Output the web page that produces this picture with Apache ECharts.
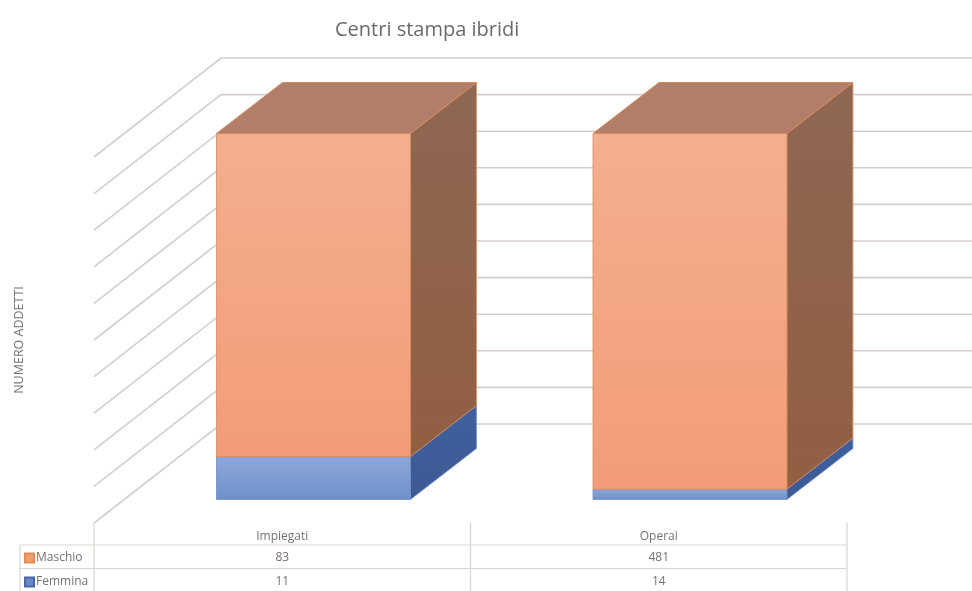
<!DOCTYPE html>
<html>
<head>
<meta charset="utf-8">
<style>html,body{margin:0;padding:0;background:#fff}#c{width:972px;height:591px}</style>
<script src="https://cdn.jsdelivr.net/npm/echarts@6/dist/echarts.min.js"></script>
</head>
<body>
<div id="c"></div>
<script>
var categories = ['Impiegati', 'Operai'];
var maschio = [83, 481];
var femmina = [11, 14];
var percentTicks = [0, 10, 20, 30, 40, 50, 60, 70, 80, 90, 100];

var FONT = '"Open Sans", sans-serif';
var WALL = [127, -99], INSET = [31.2, -23.5], DEPTH = [66, -51];
var GRID_COLOR = '#d6cecb', TABLE_COLOR = '#dcd5d1', TEXT = '#77716f';

var chart = echarts.init(document.getElementById('c'), null, {renderer: 'canvas'});
var LG = echarts.graphic.LinearGradient;
function grad(a, b) { return new LG(0, 0, 0, 1, [{offset: 0, color: a}, {offset: 1, color: b}]); }

function share(list, i) { return list[i] / (maschio[i] + femmina[i]) * 100; }
var femminaData = categories.map(function (c, i) { return [i, 0, share(femmina, i)]; });
var maschioData = categories.map(function (c, i) { return [i, share(femmina, i), 100]; });

function boxItem(look) {
  return function (params, api) {
    var i = api.value(0);
    var w = api.size([1, 0])[0] * 0.515;
    var lo = api.coord([i, api.value(1)]), hi = api.coord([i, api.value(2)]);
    var l = lo[0] + INSET[0] - w / 2, r = l + w;
    var yb = lo[1] + INSET[1], yt = hi[1] + INSET[1];
    var dx = DEPTH[0], dy = DEPTH[1];
    var kids = [
      {type: 'polygon', shape: {points: [[r, yt], [r + dx, yt + dy], [r + dx, yb + dy], [r, yb]]},
        style: {fill: grad(look.side[0], look.side[1]), stroke: look.edge, lineWidth: 0.8}},
      {type: 'rect', shape: {x: l, y: yt, width: w, height: yb - yt},
        style: {fill: grad(look.front[0], look.front[1]), stroke: look.edge, lineWidth: 0.8}}
    ];
    if (look.top) {
      kids.push({type: 'polygon', shape: {points: [[l, yt], [l + dx, yt + dy], [r + dx, yt + dy], [r, yt]]},
        style: {fill: look.top, stroke: look.edge, lineWidth: 1}});
    }
    return {type: 'group', children: kids};
  };
}

function wallItem(params, api) {
  var cs = params.coordSys;
  var y = api.coord([0, api.value(0)])[1];
  var x0 = cs.x, x1 = cs.x + WALL[0], y1 = y + WALL[1];
  return {
    type: 'polyline',
    shape: {points: [[x0, y], [x1, y1], [cs.x + cs.width + WALL[0], y1]]},
    style: {fill: null, stroke: GRID_COLOR, lineWidth: 1.6}
  };
}

function tableItem(params, api) {
  var cs = params.coordSys, i = api.value(0);
  var cx = api.coord([i, 0])[0], band = api.size([1, 0])[0];
  var base = cs.y + cs.height;
  var kids = [
    {type: 'text', style: {x: cx, y: base + 35, text: String(maschio[i]), fill: TEXT, font: '12px ' + FONT, align: 'center', verticalAlign: 'middle'}},
    {type: 'text', style: {x: cx, y: base + 59, text: String(femmina[i]), fill: TEXT, font: '12px ' + FONT, align: 'center', verticalAlign: 'middle'}},
    {type: 'line', shape: {x1: cx - band / 2, y1: base, x2: cx - band / 2, y2: base + 70}, style: {stroke: TABLE_COLOR, lineWidth: 1.2}},
    {type: 'line', shape: {x1: cx + band / 2, y1: base, x2: cx + band / 2, y2: base + 70}, style: {stroke: TABLE_COLOR, lineWidth: 1.2}}
  ];
  if (i === 0) {
    kids.push(
      {type: 'line', shape: {x1: 20, y1: base + 22, x2: cs.x + cs.width, y2: base + 22}, style: {stroke: TABLE_COLOR, lineWidth: 1.2}},
      {type: 'line', shape: {x1: 20, y1: base + 45.5, x2: cs.x + cs.width, y2: base + 45.5}, style: {stroke: TABLE_COLOR, lineWidth: 1.2}},
      {type: 'line', shape: {x1: 20, y1: base + 22, x2: 20, y2: base + 70}, style: {stroke: TABLE_COLOR, lineWidth: 1.2}}
    );
  }
  return {type: 'group', children: kids};
}

function legendFor(name, top) {
  return {
    data: [name], orient: 'vertical', left: 19, top: top,
    icon: 'rect', itemWidth: 9, itemHeight: 9,
    textStyle: {fontFamily: FONT, fontSize: 12, color: TEXT, padding: [0, 0, 0, -3]}
  };
}

chart.setOption({
  animation: false,
  backgroundColor: '#ffffff',
  title: {
    text: 'Centri stampa ibridi', left: 330, top: 15,
    textStyle: {fontFamily: FONT, fontSize: 20, fontWeight: 500, color: '#6f6a6a'}
  },
  legend: [legendFor('Maschio', 547), legendFor('Femmina', 571)],
  grid: {left: 94, top: 157, width: 753, height: 366, outerBoundsMode: 'none'},
  xAxis: {
    type: 'category', data: categories,
    axisLine: {show: false}, axisTick: {show: false},
    axisLabel: {margin: 8, fontFamily: FONT, fontSize: 12, color: TEXT}
  },
  yAxis: {
    type: 'value', min: 0, max: 100, interval: 10,
    axisLabel: {show: false}, axisLine: {show: false}, axisTick: {show: false}, splitLine: {show: false},
    name: 'NUMERO ADDETTI', nameLocation: 'middle', nameGap: 68, nameRotate: 90,
    nameTextStyle: {fontFamily: FONT, fontSize: 12.5, color: TEXT}
  },
  series: [
    {type: 'custom', name: 'walls', data: percentTicks.map(function (t) { return [t]; }), renderItem: wallItem, clip: false, silent: true, z: 1},
    {type: 'custom', name: 'table', data: categories.map(function (c, i) { return [i]; }), renderItem: tableItem, clip: false, silent: true, z: 1},
    {type: 'custom', name: 'Femmina', data: femminaData, clip: false, z: 2,
      itemStyle: {color: '#6d87c4', borderColor: '#4a66a8', borderWidth: 1},
      renderItem: boxItem({front: ['#8fa8d8', '#6e90cc'], side: ['#3f5f9f', '#3d5a94'], edge: '#6c8dc8'})},
    {type: 'custom', name: 'Maschio', data: maschioData, clip: false, z: 3,
      itemStyle: {color: '#f0a070', borderColor: '#e58a50', borderWidth: 1},
      renderItem: boxItem({front: ['#f4ae90', '#f29c78'], side: ['#8f6753', '#925f42'], edge: '#d98a5c', top: '#b17f69'})}
  ]
});
</script>
</body>
</html>
